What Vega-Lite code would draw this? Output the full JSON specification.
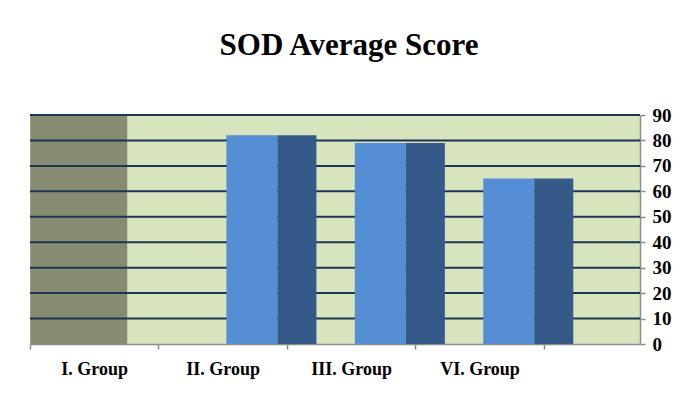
{
  "$schema": "https://vega.github.io/schema/vega-lite/v6.json",
  "width": 610,
  "height": 229,
  "autosize": {"type": "none"},
  "padding": {"left": 30, "top": 115, "right": 46, "bottom": 66},
  "background": "white",
  "title": {
    "text": "SOD Average Score",
    "font": "Liberation Serif",
    "fontSize": 31,
    "fontWeight": "bold",
    "color": "#000000",
    "anchor": "middle",
    "dx": 14,
    "offset": 44
  },
  "config": {
    "view": {"fill": "#d7e4bd", "stroke": null},
    "axis": {
      "labelFont": "Liberation Serif",
      "labelFontWeight": "bold",
      "labelFontSize": 18,
      "labelColor": "#000000",
      "domainColor": "#8c8c8c",
      "tickColor": "#8c8c8c",
      "domainWidth": 1.5,
      "tickWidth": 1.5,
      "tickSize": 5,
      "title": null
    }
  },
  "datasets": {
    "scores": [
      {"group": "II. Group", "series": "A", "value": 82},
      {"group": "II. Group", "series": "B", "value": 82},
      {"group": "III. Group", "series": "A", "value": 79},
      {"group": "III. Group", "series": "B", "value": 79},
      {"group": "VI. Group", "series": "A", "value": 65},
      {"group": "VI. Group", "series": "B", "value": 65}
    ],
    "band": [
      {"group": "I. Group", "value": 90}
    ],
    "grid": [
      {"value": 10}, {"value": 20}, {"value": 30}, {"value": 40}, {"value": 50},
      {"value": 60}, {"value": 70}, {"value": 80}, {"value": 90}
    ]
  },
  "encoding": {
    "y": {
      "field": "value",
      "type": "quantitative",
      "scale": {"domain": [0, 90], "nice": false},
      "axis": {
        "title": null,
        "orient": "right",
        "grid": false,
        "values": [0, 10, 20, 30, 40, 50, 60, 70, 80, 90],
        "labelFont": "Liberation Serif",
        "labelFontWeight": "bold",
        "labelFontSize": 19,
        "labelPadding": 7,
        "tickSize": 5
      }
    }
  },
  "layer": [
    {
      "data": {"name": "band"},
      "mark": {"type": "bar", "color": "#878b72", "width": 97, "xOffset": -15.5},
      "encoding": {
        "x": {
          "field": "group",
          "type": "nominal",
          "sort": null,
          "scale": {
            "domain": ["I. Group", "II. Group", "III. Group", "VI. Group"],
            "paddingInner": 0,
            "paddingOuter": 0.375,
            "align": 0
          },
          "axis": {
            "title": null,
            "orient": "bottom",
            "labelAngle": 0,
            "labelFont": "Liberation Serif",
            "labelFontWeight": "bold",
            "labelFontSize": 18,
            "labelPadding": 11,
            "tickBand": "extent",
            "tickExtra": true,
            "tickSize": 5
          }
        }
      }
    },
    {
      "data": {"name": "grid"},
      "mark": {"type": "rule", "color": "#1c3552", "strokeWidth": 2},
      "encoding": {}
    },
    {
      "data": {"name": "scores"},
      "mark": {"type": "bar"},
      "encoding": {
        "x": {"field": "group", "type": "nominal", "sort": null},
        "xOffset": {
          "field": "series",
          "type": "ordinal",
          "scale": {"domain": ["A", "B"], "range": [71, 161], "paddingInner": 0, "paddingOuter": 0}
        },
        "size": {
          "field": "series",
          "type": "ordinal",
          "scale": {"domain": ["A", "B"], "range": [51, 39]},
          "legend": null
        },
        "color": {
          "field": "series",
          "type": "nominal",
          "scale": {"domain": ["A", "B"], "range": ["#558ed5", "#355a8a"]},
          "legend": null
        }
      }
    }
  ]
}
